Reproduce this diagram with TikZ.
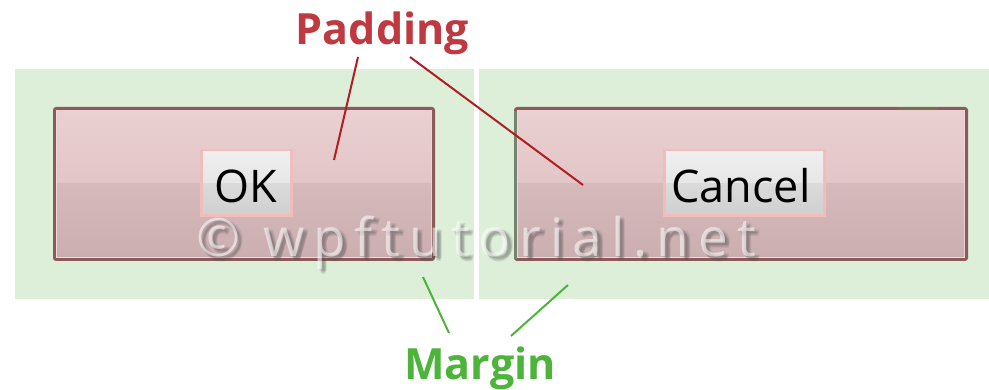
\documentclass[tikz,border=0pt]{standalone}
\usepackage{fontspec}
\setmainfont{Open Sans}
\newfontfamily\markfont[LetterSpace=17]{Open Sans}
\definecolor{panelgreen}{HTML}{DDEFD8}
\definecolor{btnedge}{HTML}{8B5A5A}
\definecolor{btnhi}{HTML}{F3D6D7}
\definecolor{btntopA}{HTML}{EAD0D1}
\definecolor{btntopB}{HTML}{E2C5C7}
\definecolor{btnbotA}{HTML}{D6B9BB}
\definecolor{btnbotB}{HTML}{CAAEB0}
\definecolor{boxedge}{HTML}{F0BCBC}
\definecolor{boxtopA}{HTML}{EFEFEF}
\definecolor{boxtopB}{HTML}{E6E6E6}
\definecolor{boxbotA}{HTML}{DADADA}
\definecolor{boxbotB}{HTML}{D0D0D0}
\definecolor{padred}{HTML}{BE3A40}
\definecolor{padline}{HTML}{B01E22}
\definecolor{margreen}{HTML}{4CB43A}
\definecolor{cancelside}{HTML}{74836C}
\definecolor{cancelnotch}{HTML}{7D6A52}
% one soft shadow copy of the watermark, shifted right by #1 and down by #2
\newcommand\markcopy[3]{\makebox[0pt][l]{\kern#1pt\raisebox{-#2pt}{#3}}}
\begin{document}
\begin{tikzpicture}[x=1pt,y=-1pt,
  panel/.style={fill=panelgreen},
  btnframe/.style={fill=btnedge,rounded corners=3pt},
  btnglow/.style={fill=btnhi},
  btnupper/.style={top color=btntopA,bottom color=btntopB},
  btnlower/.style={top color=btnbotA,bottom color=btnbotB},
  boxframe/.style={fill=boxedge},
  boxupper/.style={top color=boxtopA,bottom color=boxtopB},
  boxlower/.style={top color=boxbotA,bottom color=boxbotB},
  btntext/.style={font=\fontsize{45}{50}\selectfont,text=black,inner sep=0pt},
  callout/.style={font=\bfseries\fontsize{43}{50}\selectfont,inner sep=0pt,anchor=base},
  padlink/.style={draw=padline,line width=2pt},
  marlink/.style={draw=margreen,line width=2pt},
  markshadow/.style={font=\markfont\fontsize{53}{60}\selectfont,text=black!70,text opacity=0.12,inner sep=0pt,anchor=base},
  markfill/.style={font=\markfont\fontsize{53}{60}\selectfont,text=white,text opacity=0.55,inner sep=0pt,anchor=base}
]
\useasboundingbox (0,0) rectangle (989,390);
\fill[white] (0,0) rectangle (989,390);

% two green layout panels separated by a thin white gap
\fill[panel] (15,69) rectangle (474,299);
\fill[panel] (479,69) rectangle (989,299);

% the two buttons: dark frame, light inner rim, two-step gradient face
\foreach \l/\r in {53/435, 514/968}{
  \fill[btnframe] (\l,107) rectangle (\r,261);
  \fill[btnglow] (\l+3,110) rectangle (\r-3,258);
  \shade[btnupper] (\l+4,111) rectangle (\r-4,184);
  \shade[btnlower] (\l+4,184) rectangle (\r-4,257);
}
% the Cancel button's left edge and a short stretch of its top edge are tinted
\fill[cancelside] (514,111) rectangle (517,259);
\fill[cancelnotch] (899,107) rectangle (938,110);

% content boxes inside the buttons
\foreach \l/\r in {200/293, 663/826}{
  \fill[boxframe] (\l,149) rectangle (\r,217);
  \shade[boxupper] (\l+3,152) rectangle (\r-3,184);
  \shade[boxlower] (\l+3,184) rectangle (\r-3,214);
}
\node[btntext] (oktext) at (246,186) {OK};
\node[btntext] (canceltext) at (741,186) {Cancel};

% soft watermark: a blurred grey shadow under a translucent white face
\node[markshadow] (markshadow) at (478.5,257)
  {\markcopy{0}{2}{© wpftutorial.net}\markcopy{2}{3}{© wpftutorial.net}%
   \markcopy{1}{4}{© wpftutorial.net}\markcopy{3}{2}{© wpftutorial.net}%
   \markcopy{2}{5}{© wpftutorial.net}\phantom{© wpftutorial.net}};
\node[markfill] (markfill) at (476,257) {© wpftutorial.net};

% callout labels
\node[callout,text=padred] (padlbl) at (382.5,45) {Padding};
\node[callout,text=margreen] (marlbl) at (480,379) {Margin};

% leader lines
\coordinate (padA) at (358,57);
\coordinate (padAend) at (334,160);
\coordinate (padB) at (410,57);
\coordinate (padBend) at (583,185);
\coordinate (marA) at (449,333);
\coordinate (marAend) at (423,277);
\coordinate (marB) at (511,336);
\coordinate (marBend) at (568,285);
\draw[padlink] (padA) -- (padAend);
\draw[padlink] (padB) -- (padBend);
\draw[marlink] (marA) -- (marAend);
\draw[marlink] (marB) -- (marBend);
\end{tikzpicture}
\end{document}
